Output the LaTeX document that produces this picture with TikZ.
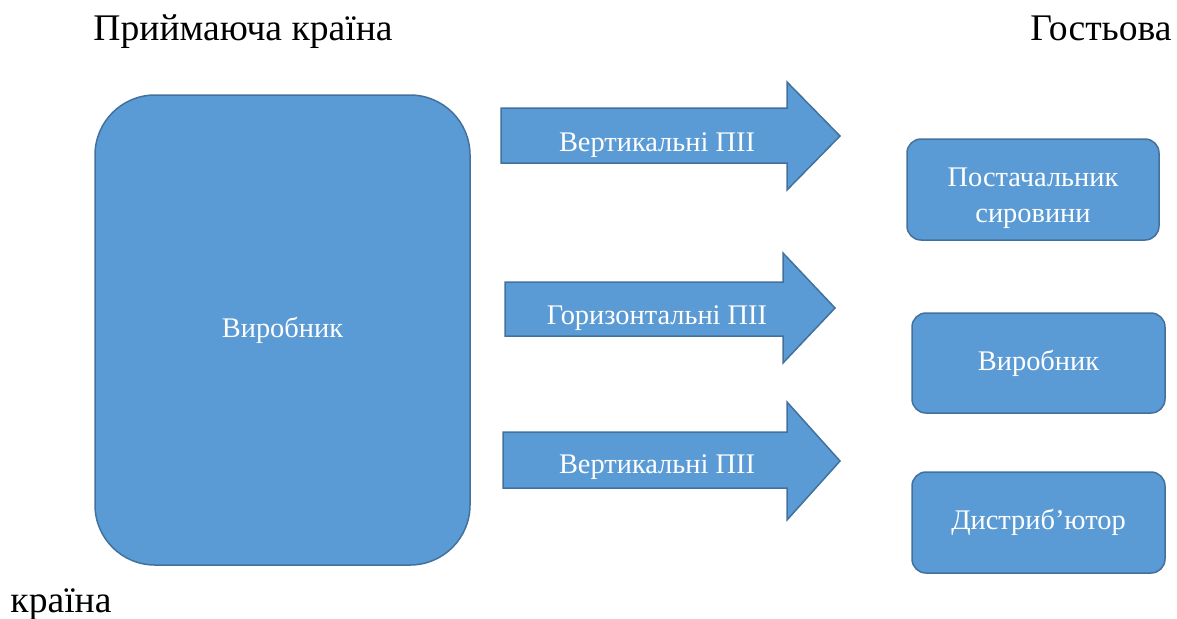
\documentclass[tikz,border=0pt]{standalone}
\usepackage{fontspec}
\setmainfont{Liberation Serif}
\usepackage{tikz}
\definecolor{boxblue}{HTML}{5B9BD5}
\definecolor{boxedge}{HTML}{41719C}
\tikzset{
  bluebox/.style={draw=boxedge,fill=boxblue,line width=0.75pt,text=white,
    font=\fontsize{14.2}{18}\selectfont,align=center,inner sep=0pt},
  fdiarrow/.style={draw=boxedge,fill=boxblue,line width=0.75pt,line join=miter},
  fdilabel/.style={text=white,font=\fontsize{14.2}{18}\selectfont},
  countrylabel/.style={anchor=base,font=\fontsize{18.8}{22}\selectfont}
}
\begin{document}
\begin{tikzpicture}[x=0.5pt,y=-0.5pt]
\useasboundingbox (0,0) rectangle (1177,618);
% country labels
\node[countrylabel] (host) at (243,40) {Приймаюча країна};
\node[countrylabel] (guest) at (1101,40) {Гостьова};
\node[countrylabel] (guest2) at (61,612) {країна};
% host producer
\node[bluebox,rounded corners=30pt,minimum width=187.5pt,minimum height=235pt] (prod) at (282.5,330) {Виробник};
% arrows
\draw[fdiarrow] (501,108) -- (787,108) -- (787,82) -- (840,136) -- (787,190) -- (787,163) -- (501,163) -- cycle;
\node[fdilabel] (fdi1) at (657,145) {Вертикальні ПІІ};
\draw[fdiarrow] (505,282) -- (783,282) -- (783,253) -- (835,308) -- (783,363) -- (783,336) -- (505,336) -- cycle;
\node[fdilabel] (fdi2) at (657,318) {Горизонтальні ПІІ};
\draw[fdiarrow] (503,432) -- (787,432) -- (787,402) -- (840,461) -- (787,520) -- (787,488) -- (503,488) -- cycle;
\node[fdilabel] (fdi3) at (657,467) {Вертикальні ПІІ};
% guest firms
\node[bluebox,rounded corners=7pt,minimum width=126pt,minimum height=50.5pt] (supplier) at (1033,189.5) {\rule{0pt}{18.5pt}Постачальник\\сировини};
\node[bluebox,rounded corners=7pt,minimum width=126.5pt,minimum height=50pt] (gprod) at (1038.5,363) {Виробник};
\node[bluebox,rounded corners=7pt,minimum width=126.5pt,minimum height=50.5pt] (distr) at (1038.5,522.5) {Дистриб’ютор};
\end{tikzpicture}
\end{document}
